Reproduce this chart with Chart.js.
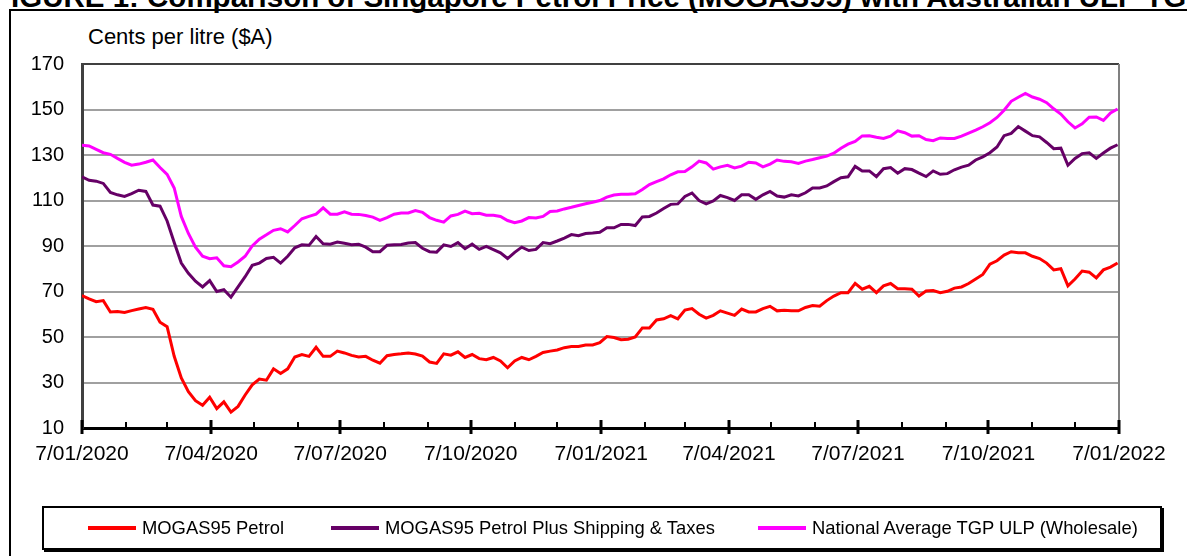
<!DOCTYPE html>
<html>
<head>
<meta charset="utf-8">
<script src="https://cdn.jsdelivr.net/npm/chart.js@4"></script>
<style>
  html, body { margin: 0; padding: 0; background: #fff; }
  body { width: 1187px; height: 556px; position: relative; overflow: hidden; font-family: "Liberation Sans", Arial, sans-serif; }
  #title { position: absolute; left: -7px; top: -18px; white-space: nowrap; font-weight: bold; font-size: 29.5px; line-height: 29px; color: #000; }
  #frame { position: absolute; left: 9px; top: 9px; width: 1300px; height: 700px; border: 2px solid #000; }
  #chartBox { position: absolute; left: 0; top: 0; width: 1187px; height: 556px; }
  #unit { position: absolute; left: 88px; top: 24px; font-size: 22px; color: #000; }
  #legend { position: absolute; left: 42px; top: 506px; width: 1116px; height: 40px; border: 2px solid #000; box-shadow: 2px 2px 0 #000; background: #fff; }
  .item { position: absolute; top: 10px; font-size: 18.4px; line-height: 20px; color: #000; white-space: nowrap; }
  .item i { display: inline-block; width: 48px; height: 4px; vertical-align: middle; margin-right: 6px; position: relative; top: -1px; }
</style>
</head>
<body>
<div id="frame"></div>
<div id="title">FIGURE 1: Comparison of Singapore Petrol Price (MOGAS95) with Australian ULP TGP</div>
<div id="unit">Cents per litre ($A)</div>
<div id="chartBox"><canvas id="petrolChart"></canvas></div>
<div id="legend"></div>
<script>
// sampled every 5 days from 7/01/2020, values in cents per litre
const startDate = '2020-01-07';
const stepDays = 5;
const tickLabels = ['7/01/2020', '7/04/2020', '7/07/2020', '7/10/2020', '7/01/2021', '7/04/2021', '7/07/2021', '7/10/2021', '7/01/2022'];
const seriesNames = ['MOGAS95 Petrol', 'MOGAS95 Petrol Plus Shipping & Taxes', 'National Average TGP ULP (Wholesale)'];
const seriesColors = ['#ff0000', '#660066', '#ff00ff'];

const mogas = [68.2, 66.8, 65.5, 66, 61, 61.2, 60.8, 61.6, 62.3, 63,
  62.2, 56.5, 54.5, 41.5, 32, 26, 22, 20, 23.5, 18.5,
  21.5, 17, 19.5, 24.5, 29, 31.5, 31, 36, 34, 36,
  41.2, 42.3, 41.5, 45.5, 41.5, 41.5, 43.8, 43, 41.9, 41.2,
  41.5, 39.8, 38.5, 41.8, 42.3, 42.6, 43, 42.5, 41.6, 39,
  38.4, 42.6, 42, 43.5, 41, 42.3, 40.5, 40, 41, 39.5,
  36.5, 39.5, 41, 40, 41.5, 43.2, 43.8, 44.3, 45.3, 45.8,
  45.8, 46.5, 46.5, 47.5, 50.2, 49.8, 48.8, 49, 50, 54,
  54, 57.5, 58, 59.4, 58, 61.8, 62.5, 60, 58.3, 59.5,
  61.5, 60.5, 59.5, 62.3, 61, 61, 62.5, 63.5, 61.5, 61.8,
  61.5, 61.5, 63, 63.8, 63.5, 66, 68, 69.5, 69.5, 73.6,
  71, 72.3, 69.5, 72.5, 73.5, 71.2, 71.2, 71, 68, 70.2,
  70.4, 69.5, 70.1, 71.5, 72, 73.5, 75.5, 77.5, 82, 83.5,
  86, 87.5, 87, 87, 85.5, 84.5, 82.5, 79.5, 80, 72.5,
  75.5, 79, 78.5, 76, 79.5, 80.7, 82.5];

const mogasPlus = [120.4, 118.9, 118.5, 117.5, 113.5, 112.5, 111.8, 113, 114.5, 114,
  108, 107.5, 101, 91.5, 82.5, 78, 74.5, 72, 74.8, 70,
  70.8, 67.5, 72, 76.5, 81.5, 82.5, 84.5, 85, 82.5, 85.5,
  89.2, 90.5, 90.3, 94.2, 91, 90.8, 91.7, 91.2, 90.6, 90.8,
  89.5, 87.5, 87.5, 90.3, 90.5, 90.7, 91.3, 91.5, 89, 87.5,
  87.3, 90.5, 89.8, 91.5, 88.8, 90.8, 88.5, 89.8, 88.4, 87,
  84.5, 87.2, 89.5, 88, 88.5, 91.5, 91, 92.2, 93.5, 95,
  94.5, 95.5, 95.7, 96, 98, 98, 99.5, 99.5, 99, 102.8,
  103, 104.5, 106.5, 108.3, 108.5, 111.8, 113.3, 110, 108.5, 109.8,
  112.2, 111.3, 110, 112.5, 112.5, 110.5, 112.5, 114, 112, 111.5,
  112.5, 112, 113.4, 115.5, 115.5, 116.4, 118.3, 120, 120.4, 125,
  123, 123, 120.5, 124, 124.5, 122, 124, 123.6, 122, 120.5,
  123, 121.5, 121.8, 123.5, 124.7, 125.5, 127.8, 129.2, 131, 133.5,
  138.5, 139.5, 142.5, 140.5, 138.5, 138, 135.5, 132.8, 133, 125.5,
  128.5, 130.6, 131, 128.5, 130.9, 133, 134.5];

const tgpUlp = [134.3, 134, 132.5, 131, 130.3, 128.5, 126.8, 125.5, 126, 126.8,
  127.8, 124.5, 121.5, 115.5, 103, 95.5, 89.5, 85.5, 84.4, 84.8,
  81.3, 80.9, 83, 85.5, 90, 93, 94.9, 96.9, 97.6, 96.2,
  99, 102, 103, 104, 106.8, 104, 104, 105, 104, 103.9,
  103.4, 102.7, 101.3, 102.5, 104, 104.5, 104.5, 105.6, 104.8, 102.5,
  101.3, 100.5, 103.2, 103.9, 105.3, 104.2, 104.4, 103.5, 103.5, 103,
  101.2, 100.2, 101, 102.5, 102.3, 103, 105.2, 105.4, 106.3, 107,
  107.8, 108.6, 109.2, 110, 111.5, 112.4, 112.7, 112.7, 113, 114.8,
  117, 118.3, 119.5, 121.3, 122.6, 122.7, 124.8, 127.3, 126.5, 123.8,
  124.8, 125.5, 124.3, 125.1, 126.8, 126.5, 124.8, 126, 127.8, 127.2,
  127, 126.3, 127.3, 128, 128.8, 129.5, 130.8, 133, 134.8, 136,
  138.4, 138.5, 137.8, 137.3, 138.3, 140.6, 139.8, 138.3, 138.5, 136.8,
  136.3, 137.5, 137.3, 137.3, 138.3, 139.6, 140.9, 142.4, 144.2, 146.5,
  149.7, 153.6, 155.4, 157.1, 155.5, 154.5, 153, 150.3, 148, 144.6,
  141.9, 143.7, 146.6, 146.7, 145.2, 148.5, 150.2];

const DAY = 86400000;
const start = Date.parse(startDate + 'T00:00:00Z');

// the 7th of every month, major ones every quarter
const monthDays = [];
for (let m = 0; m <= 24; m++) {
  monthDays.push((Date.UTC(2020, m, 7) - start) / DAY);
}

function toPoints(values) {
  return values.map((v, i) => ({ x: i * stepDays, y: v }));
}

const fontFamily = '"Liberation Sans", Arial, sans-serif';

// frame round the plot and the x tick marks
const axisMarks = {
  id: 'axisMarks',
  afterDraw(chart) {
    const { ctx, chartArea: a, scales } = chart;
    ctx.save();
    ctx.lineWidth = 2;
    ctx.strokeStyle = '#404040';
    ctx.beginPath(); ctx.moveTo(a.left, a.top); ctx.lineTo(a.right, a.top); ctx.stroke();
    ctx.strokeStyle = '#808080';
    ctx.beginPath(); ctx.moveTo(a.right, a.top); ctx.lineTo(a.right, a.bottom); ctx.stroke();
    ctx.strokeStyle = '#000';
    monthDays.forEach((d, i) => {
      const x = Math.round(scales.x.getPixelForValue(d));
      const major = i % 3 === 0;
      ctx.lineWidth = major ? 3 : 2;
      ctx.beginPath();
      ctx.moveTo(x, a.bottom - (major ? 8 : 6));
      ctx.lineTo(x, a.bottom + (major ? 6 : 0));
      ctx.stroke();
    });
    ctx.restore();
  }
};

const ctx = document.getElementById('petrolChart').getContext('2d');

new Chart(ctx, {
  type: 'line',
  data: {
    datasets: [
      { label: seriesNames[0], data: toPoints(mogas), borderColor: seriesColors[0] },
      { label: seriesNames[1], data: toPoints(mogasPlus), borderColor: seriesColors[1] },
      { label: seriesNames[2], data: toPoints(tgpUlp), borderColor: seriesColors[2] }
    ]
  },
  options: {
    responsive: true,
    maintainAspectRatio: false,
    animation: false,
    layout: { padding: { left: 10, top: 64, right: 68, bottom: 88 } },
    elements: {
      line: { borderWidth: 3, tension: 0 },
      point: { radius: 0 }
    },
    plugins: {
      legend: { display: false },
      tooltip: { enabled: false }
    },
    scales: {
      x: {
        type: 'linear',
        min: 0,
        max: monthDays[24],
        afterBuildTicks: scale => { scale.ticks = monthDays.map(v => ({ value: v })); },
        afterFit: scale => { scale.height = 40; },
        grid: { display: true, drawOnChartArea: false, drawTicks: false },
        border: { display: true, color: '#000', width: 3 },
        ticks: {
          autoSkip: false,
          maxRotation: 0,
          padding: 14,
          color: '#000',
          font: { family: fontFamily, size: 21 },
          callback: (value, index) => index % 3 === 0 ? tickLabels[index / 3] : ''
        }
      },
      y: {
        min: 10,
        max: 170,
        afterFit: scale => { scale.width = 72; },
        grid: {
          drawTicks: false,
          lineWidth: 2,
          color: c => (c.tick.value === 10 || c.tick.value === 170) ? 'rgba(0,0,0,0)' : '#a0a0a0'
        },
        border: { display: true, color: '#404040', width: 3 },
        ticks: {
          stepSize: 20,
          padding: 18,
          color: '#000',
          font: { family: fontFamily, size: 20 }
        }
      }
    }
  },
  plugins: [axisMarks]
});

// legend row under the chart
const legendLeft = [44, 287, 714];
const legend = document.getElementById('legend');
seriesNames.forEach((name, i) => {
  const item = document.createElement('div');
  item.className = 'item';
  item.style.left = legendLeft[i] + 'px';
  const swatch = document.createElement('i');
  swatch.style.background = seriesColors[i];
  item.appendChild(swatch);
  item.appendChild(document.createTextNode(name));
  legend.appendChild(item);
});
</script>
</body>
</html>
